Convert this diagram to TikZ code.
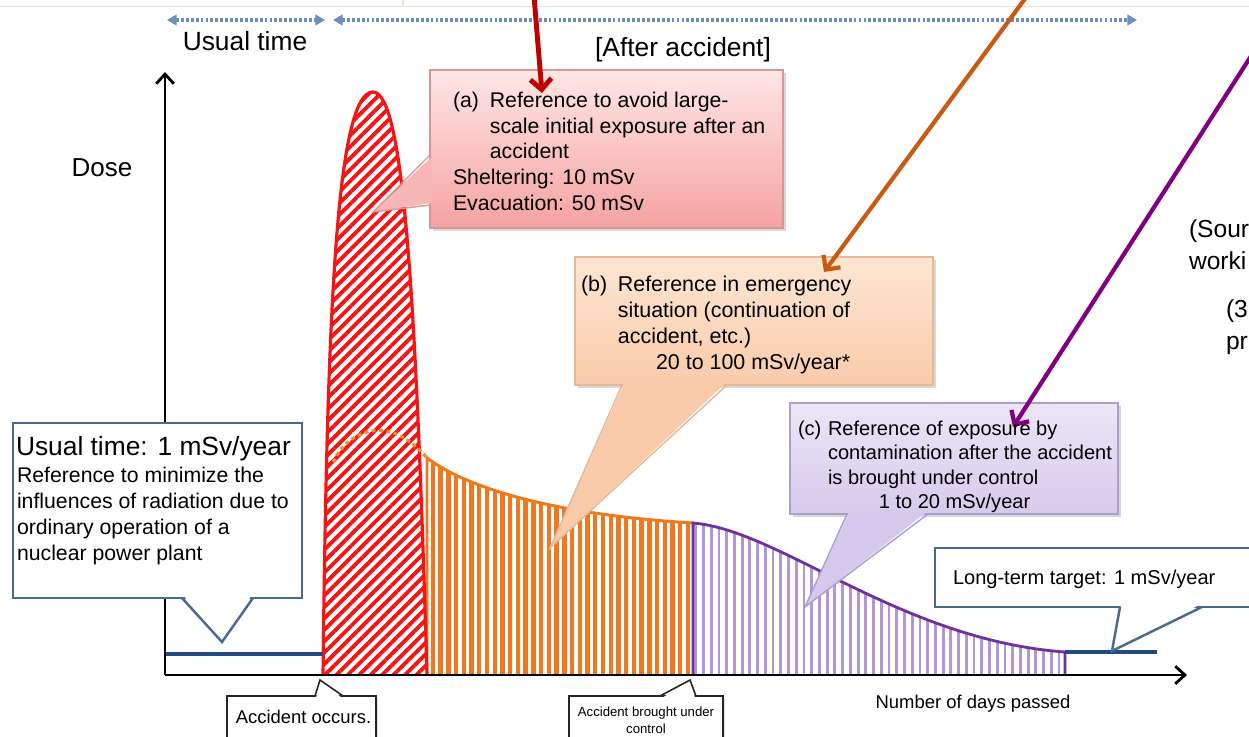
\documentclass[tikz,border=0pt]{standalone}
\usepackage{fontspec}
\setmainfont{Liberation Sans}
\usetikzlibrary{arrows.meta,patterns.meta,shadows}
\newcommand{\setfs}[2]{\fontsize{#1pt}{#2pt}\selectfont}
\definecolor{spikered}{RGB}{245,20,20}
\definecolor{orangec}{RGB}{240,120,30}
\definecolor{orangedot}{RGB}{242,140,50}
\definecolor{purplec}{RGB}{112,48,160}
\definecolor{purplehatch}{RGB}{178,150,218}
\definecolor{baseblue}{RGB}{35,75,125}
\definecolor{boxblue}{RGB}{75,105,145}
\definecolor{topdot}{RGB}{110,140,190}
\definecolor{tableline}{RGB}{232,226,210}
\definecolor{arrred}{RGB}{192,0,0}
\definecolor{arrorange}{RGB}{200,90,20}
\definecolor{arrpurple}{RGB}{128,0,128}
\definecolor{atop}{RGB}{255,230,230}
\definecolor{abot}{RGB}{245,162,162}
\definecolor{amid}{RGB}{247,182,182}
\definecolor{aborder}{RGB}{212,150,150}
\definecolor{btop}{RGB}{253,230,212}
\definecolor{bbot}{RGB}{250,203,170}
\definecolor{bborder}{RGB}{228,185,150}
\definecolor{ctop}{RGB}{236,230,246}
\definecolor{cbot}{RGB}{214,202,236}
\definecolor{cborder}{RGB}{172,158,206}
\begin{document}
\begin{tikzpicture}[x=0.02cm,y=-0.02cm,
  txt/.style={inner sep=0pt,outer sep=0pt,text=black},
  whitebox/.style={rectangle,inner sep=0pt,outer sep=0pt,fill=white,draw=boxblue,line width=1.4pt},
  blackbox/.style={rectangle,inner sep=0pt,outer sep=0pt,fill=white,draw=black!85,line width=0.9pt,
    drop shadow={shadow xshift=1pt,shadow yshift=-1pt,opacity=0.25}},
  softshadow/.style={drop shadow={shadow xshift=1.6pt,shadow yshift=-1.6pt,opacity=0.3}},
  axisline/.style={line width=1.6pt,draw=black,-{Straight Barb[length=5.5pt,width=10pt]}},
  topdotted/.style={draw=topdot,line width=2pt,dash pattern=on 1.6pt off 1.2pt,
    {Triangle[length=5.5pt,width=6pt]}-{Triangle[length=5.5pt,width=6pt]}},
  bigarrow/.style={line width=2.4pt,-{Straight Barb[length=6pt,width=12pt]}},
  calloutbox/.style={rectangle,inner sep=0pt,outer sep=0pt,line width=0.8pt,softshadow}
]
\useasboundingbox (0,0) rectangle (1249,737);
\fill[white] (0,0) rectangle (1249,737);
\clip (0,0) rectangle (1249,737);

% remnants of a table frame at the top
\draw[tableline,line width=0.8pt] (0,6.5) -- (1249,6.5);
\draw[tableline,line width=0.8pt] (403,0) -- (403,6.5);

% top dotted period arrows
\coordinate (ut0) at (167,20);
\coordinate (ut1) at (325,20);
\coordinate (aa0) at (333,20);
\coordinate (aa1) at (1137,20);
\draw[topdotted] (ut0) -- (ut1);
\draw[topdotted] (aa0) -- (aa1);

% orange region (emergency)
\path[pattern={Lines[angle=90,distance=4.4pt,line width=2.5pt]},pattern color=orangec]
  (427,675) -- (427,458) .. controls (470,490) and (560,515) .. (693,523) -- (693,675) -- cycle;
% purple region (after control)
\path[pattern={Lines[angle=90,distance=4.4pt,line width=1.6pt]},pattern color=purplehatch]
  (693,675) -- (693,523) .. controls (780,530) and (900,640) .. (1065,652) -- (1065,675) -- cycle;
\draw[orangec,line width=1.7pt] (427,675) -- (427,458) .. controls (470,490) and (560,515) .. (693,523);
\draw[purplec,line width=1.6pt] (693,675) -- (693,523) .. controls (780,530) and (900,640) .. (1065,652) -- (1065,675);

% red spike
\path[pattern={Lines[angle=45,distance=4.6pt,line width=2.2pt]},pattern color=spikered]
  (323,675) .. controls (327,320) and (336,92) .. (373,92) .. controls (404,92) and (416,300) .. (427,675) -- cycle;
\draw[spikered,line width=1.8pt]
  (323,675) .. controls (327,320) and (336,92) .. (373,92) .. controls (404,92) and (416,300) .. (427,675);
% dotted orange continuation inside the spike
\draw[orangedot,line width=1.8pt,dash pattern=on 2.2pt off 2pt]
  (333,462) .. controls (350,428) and (390,414) .. (427,458);

% usual-time dose level
\coordinate (bl0) at (165,654);
\coordinate (bl1) at (323,654);
\coordinate (br0) at (1065,652);
\coordinate (br1) at (1157,652);
\draw[baseblue,line width=2.3pt] (bl0) -- (bl1);
\draw[baseblue,line width=2.3pt] (br0) -- (br1);

% axes
\coordinate (origin) at (165,675);
\coordinate (ytip) at (165,72);
\coordinate (xtip) at (1187,675);
\draw[axisline] (origin) -- (ytip);
\draw[axisline] (origin) -- (xtip);

% usual time callout
\node[whitebox,minimum width=5.78cm,minimum height=3.5cm] (boxu) at (157.5,510.5) {};
\fill[white] (184,596) -- (222,642) -- (251,596) -- cycle;
\draw[boxblue,line width=1.4pt,line join=miter] (182,598) -- (222,642) -- (253,598);

% long-term target callout
\node[whitebox,minimum width=7.3cm,minimum height=1.18cm] (boxl) at (1117.5,577.5) {};
\fill[white] (1121,605) -- (1112,651) -- (1199,605) -- cycle;
\draw[boxblue,line width=1.4pt] (1120,607) -- (1112,651) -- (1202,607);

% (a) callout
\node[calloutbox,minimum width=7.06cm,minimum height=3.16cm,top color=atop,bottom color=abot,draw=aborder] (boxa) at (606.5,149) {};
\fill[amid] (431.5,157) -- (373,212) -- (431.5,203) -- cycle;
\draw[aborder,line width=0.8pt] (430,155) -- (373,212) -- (430,205);

% (b) callout
\node[calloutbox,minimum width=7.16cm,minimum height=2.56cm,top color=btop,bottom color=bbot,draw=bborder] (boxb) at (754,321) {};
\fill[bbot] (624,383.5) -- (550,548) -- (725,383.5) -- cycle;
\draw[bborder,line width=0.8pt] (622,385) -- (550,548) -- (727,385);

% (c) callout
\node[calloutbox,minimum width=6.56cm,minimum height=2.22cm,top color=ctop,bottom color=cbot,draw=cborder] (boxc) at (954,458.5) {};
\fill[cbot] (849,512.5) -- (805,607) -- (926,512.5) -- cycle;
\draw[cborder,line width=0.8pt] (847,514) -- (805,607) -- (928,514);

% accident occurs callout
\node[blackbox,minimum width=2.98cm,minimum height=1.28cm] (boxo) at (301.5,728) {};
\fill[white] (316,698) -- (320,680) -- (342,698) -- cycle;
\draw[black!85,line width=0.9pt] (315,696) -- (320,680) -- (343,696);

% accident brought under control callout
\node[blackbox,minimum width=3.08cm,minimum height=1.28cm] (boxk) at (646,728) {};
\fill[white] (662,698) -- (690,680) -- (695,698) -- cycle;
\draw[black!85,line width=0.9pt] (660,696) -- (690,680) -- (696,696);

% arrows coming from above
\coordinate (ra0) at (534,-4);
\coordinate (ra1) at (542,93);
\coordinate (oa0) at (1027,-4);
\coordinate (oa1) at (824,272);
\coordinate (pa0) at (1253,53);
\coordinate (pa1) at (1013,427);
\draw[bigarrow,arrred,line width=2.8pt] (ra0) -- (ra1);
\draw[bigarrow,arrorange] (oa0) -- (oa1);
\draw[bigarrow,arrpurple] (pa0) -- (pa1);

% texts
\node[txt,font=\setfs{15}{18},anchor=base] (tusual) at (245,51) {Usual time};
\node[txt,font=\setfs{15}{18},anchor=base] (tafter) at (683,56) {[After accident]};
\node[txt,font=\setfs{14.8}{18},anchor=base] (tdose) at (102,176.5) {Dose};
\node[txt,font=\setfs{10.5}{12.6},anchor=base] (tdays) at (973,708.7) {Number of days passed};

\node[txt,font=\setfs{12.1}{14.6},align=left,anchor=north west] (ta) at (453,92)
  {\makebox[21pt][l]{(a)}Reference to avoid large-\\
   \hspace*{21pt}scale initial exposure after an\\
   \hspace*{21pt}accident\\
   Sheltering: 10 mSv\\
   Evacuation: 50 mSv};
\node[txt,font=\setfs{12.2}{14.8},align=left,anchor=north west] (tb) at (581,276)
  {\makebox[21pt][l]{(b)}Reference in emergency\\
   \hspace*{21pt}situation (continuation of\\
   \hspace*{21pt}accident, etc.)\\
   \hspace*{42.7pt}20 to 100 mSv/year*};
\node[txt,font=\setfs{11.4}{13.8},align=left,anchor=north west] (tc) at (798,421)
  {\makebox[17.1pt][l]{(c)}Reference of exposure by\\
   \hspace*{17.1pt}contamination after the accident\\
   \hspace*{17.1pt}is brought under control\\
   \hspace*{46pt}1 to 20 mSv/year};
\node[txt,font=\setfs{15}{18},anchor=north west] (tut) at (16,436.5) {Usual time: 1 mSv/year};
\node[txt,font=\setfs{12.1}{14.8},align=left,anchor=north west] (tub) at (17,467)
  {Reference to minimize the\\
   influences of radiation due to\\
   ordinary operation of a\\
   nuclear power plant};
\node[txt,font=\setfs{11.4}{13.7},anchor=base west] (tlong) at (953,584.2) {Long-term target: 1 mSv/year};
\node[txt,font=\setfs{10.5}{12.6},anchor=base] (tocc) at (303.5,723.6) {Accident occurs.};
\node[txt,font=\setfs{7.5}{9.7},align=center,anchor=north] (tctl) at (646,707) {Accident brought under\\control};

% cut-off texts at the right edge
\node[txt,font=\setfs{14}{17},anchor=base west] (tsrc1) at (1189,237) {(Sour};
\node[txt,font=\setfs{14}{17},anchor=base west] (tsrc2) at (1189,269) {worki};
\node[txt,font=\setfs{14}{17},anchor=base west] (tsrc3) at (1226,317) {(3};
\node[txt,font=\setfs{14}{17},anchor=base west] (tsrc4) at (1226,349) {pr};
\end{tikzpicture}
\end{document}
